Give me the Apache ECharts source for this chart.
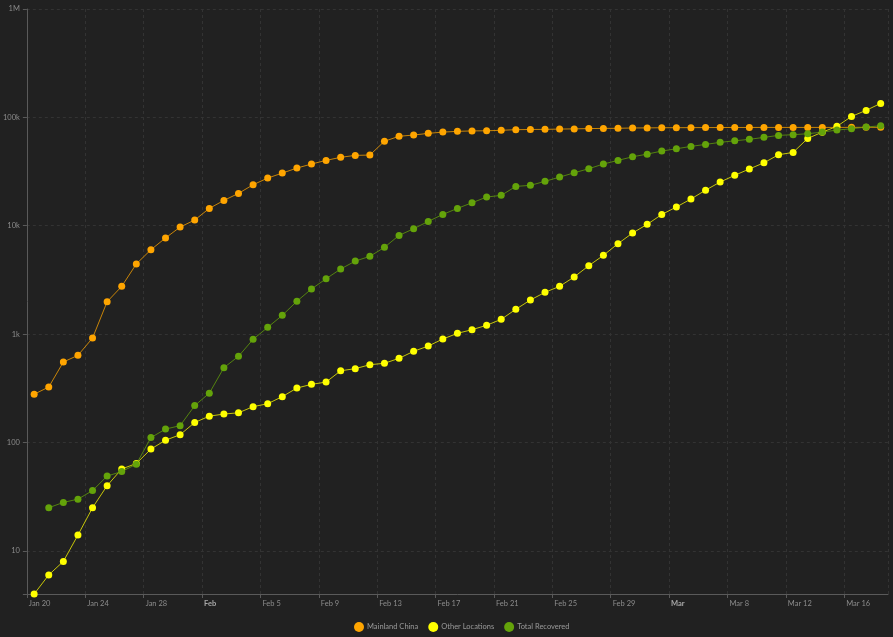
<!DOCTYPE html>
<html>
<head>
<meta charset="utf-8">
<script src="https://cdn.jsdelivr.net/npm/echarts@6/dist/echarts.min.js"></script>
<style>
  html, body { margin: 0; padding: 0; background: #212121; }
  #chart { width: 893px; height: 637px; }
</style>
</head>
<body>
<div id="chart"></div>
<script>
'use strict';

// one entry per day, Jan 20 .. Mar 18 (2020)
const dates = [
  'Jan 20','Jan 21','Jan 22','Jan 23','Jan 24','Jan 25','Jan 26','Jan 27','Jan 28','Jan 29','Jan 30','Jan 31',
  'Feb 1','Feb 2','Feb 3','Feb 4','Feb 5','Feb 6','Feb 7','Feb 8','Feb 9','Feb 10','Feb 11','Feb 12','Feb 13','Feb 14',
  'Feb 15','Feb 16','Feb 17','Feb 18','Feb 19','Feb 20','Feb 21','Feb 22','Feb 23','Feb 24','Feb 25','Feb 26','Feb 27',
  'Feb 28','Feb 29','Mar 1','Mar 2','Mar 3','Mar 4','Mar 5','Mar 6','Mar 7','Mar 8','Mar 9','Mar 10','Mar 11','Mar 12',
  'Mar 13','Mar 14','Mar 15','Mar 16','Mar 17','Mar 18'
];

const mainlandChina = [
  279, 325, 553, 637, 920, 1990, 2760, 4440, 6010, 7710, 9730, 11290,
  14460, 17130, 19890, 23900, 27540, 30620, 34060, 37100, 40100, 42800, 44600, 44900, 60200, 66900,
  68700, 71200, 73100, 74300, 75000, 75200, 76000, 77000, 77300, 77500, 78000, 78300, 78800,
  79100, 79300, 79800, 80000, 80200, 80300, 80400, 80500, 80600, 80700, 80700, 80800, 80800, 80800,
  80800, 80800, 80800, 80900, 80900, 80900
];

const otherLocations = [
  4, 6, 8, 14, 25, 40, 57, 64, 87, 105, 118, 153,
  175, 183, 188, 214, 228, 265, 318, 344, 361, 459, 480, 522, 538, 598,
  694, 776, 901, 1017, 1099, 1206, 1370, 1695, 2065, 2430, 2760, 3370, 4280,
  5330, 6830, 8570, 10300, 12700, 14890, 17650, 21300, 25300, 29200, 33400, 38100, 45200, 47500,
  64000, 73000, 82600, 102000, 116000, 134600
];

const totalRecovered = [
  null, 25, 28, 30, 36, 49, 54, 63, 111, 133, 143, 219,
  285, 490, 624, 895, 1155, 1490, 2010, 2610, 3240, 3990, 4720, 5220, 6320, 8150,
  9380, 10970, 12720, 14460, 16300, 18400, 19070, 23070, 23590, 25700, 28100, 30800, 33600,
  37100, 40100, 43300, 45800, 48900, 51300, 54000, 56300, 58800, 60800, 62700, 65400, 68200, 69200,
  70700, 73100, 76400, 78500, 81400, 83700
];

// x ticks every 4 days starting Jan 20
const xTickLabels = ['Jan 20','Jan 24','Jan 28','Feb','Feb 5','Feb 9','Feb 13','Feb 17','Feb 21','Feb 25','Feb 29','Mar','Mar 8','Mar 12','Mar 16'];
const yTicks = [10, 100, 1000, 10000, 100000, 1000000];
const yTickLabels = ['10', '100', '1k', '10k', '100k', '1M'];

const seriesNames = ['Mainland China', 'Other Locations', 'Total Recovered'];
const seriesColors = ['#ffa500', '#ffff00', '#64a30a'];

// a day sits in the middle of its slot on the x axis
function toPoints(values) {
  return values.map((v, i) => [i + 0.5, v]);
}

const chart = echarts.init(document.getElementById('chart'));

chart.setOption({
  animation: false,
  backgroundColor: '#212121',
  textStyle: { fontFamily: 'Lato, "Open Sans", sans-serif' },
  grid: { left: 24, right: 5, top: 9, bottom: 43, containLabel: false },
  legend: {
    data: seriesNames,
    left: 354,
    top: 622,
    padding: 0,
    icon: 'circle',
    itemWidth: 10,
    itemHeight: 10,
    itemGap: 10,
    textStyle: { color: '#9a9a9a', fontSize: 7.5, padding: [0, 0, 0, -2] },
  },
  xAxis: {
    type: 'value',
    min: 0,
    max: dates.length,
    interval: 4,
    axisLine: { lineStyle: { color: '#5a5a5a', width: 1 } },
    axisTick: { show: true, length: 4, lineStyle: { color: '#5a5a5a' } },
    splitLine: { show: true, lineStyle: { color: '#333333', type: [3, 3], width: 1 } },
    axisLabel: {
      color: '#8c8c8c',
      fontSize: 7.5,
      margin: 6,
      align: 'left',
      padding: [0, 0, 0, 2],
      showMaxLabel: false,
      formatter: function (val) {
        if (val % 4 !== 0) return '';
        const label = xTickLabels[val / 4];
        if (!label) return '';
        return label.indexOf(' ') < 0 ? '{b|' + label + '}' : label;
      },
      rich: { b: { fontWeight: 'bold', color: '#a8a8a8', fontSize: 7.5 } },
    },
  },
  yAxis: {
    type: 'log',
    logBase: 10,
    min: 4,
    max: 1000000,
    axisLine: { show: true, lineStyle: { color: '#5a5a5a', width: 1 } },
    axisTick: { show: true, length: 4, lineStyle: { color: '#5a5a5a' } },
    splitLine: { show: true, lineStyle: { color: '#333333', type: [3, 3], width: 1 } },
    axisLabel: {
      color: '#8c8c8c',
      fontSize: 7.5,
      margin: 7,
      formatter: function (val) {
        const k = yTicks.findIndex(t => Math.abs(t - val) / t < 1e-6);
        return k < 0 ? '' : yTickLabels[k];
      },
    },
  },
  series: [mainlandChina, otherLocations, totalRecovered].map((values, i) => ({
    name: seriesNames[i],
    type: 'line',
    data: toPoints(values),
    symbol: 'circle',
    symbolSize: 7,
    showSymbol: true,
    connectNulls: false,
    itemStyle: { color: seriesColors[i] },
    lineStyle: { color: seriesColors[i], width: 1, opacity: 0.75 },
  })),
});
</script>
</body>
</html>
